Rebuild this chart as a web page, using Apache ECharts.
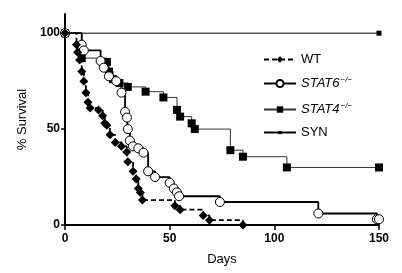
<!DOCTYPE html>
<html>
<head>
<meta charset="utf-8">
<script src="https://cdn.jsdelivr.net/npm/echarts@6/dist/echarts.min.js"></script>
<style>
  html, body { margin: 0; padding: 0; background: #fff; }
  #chart { width: 402px; height: 273px; }
</style>
</head>
<body>
<div id="chart"></div>
<script>
// survival curves, [day, % surviving]
const wtData = [[0,100],[5.5,94],[6,90],[7,86],[8,80],[9,75],[10,69],[11,64],[12,61],[16,60],[18,57],[19,53],[20,52],[21.5,47],[24,43],[27,41],[29.5,38],[30,33],[32.5,28],[34,24],[35,19],[36,17],[37,13],[52.5,10],[55,8],[66,5],[69,2.5],[85,0]];
const stat6Data = [[0,100],[8,94],[9,91],[17,85.5],[18.5,82],[21,77.5],[24.5,75],[27,69],[28.7,59],[29.6,56],[30,50],[31,44],[32.5,41],[35,40],[37.5,37.7],[39.7,28],[43,25],[50,22],[52,19],[53.5,17],[54.5,15],[74,12],[121,6],[149,3],[150,3]];
const stat4Data = [[0,100],[8,87],[20,85],[21,80],[23,76],[26,74],[30,72],[38.5,69.5],[47,66.5],[53.5,60],[55,56.5],[60.5,53],[62,50],[79,39],[85,35.6],[106,30],[150,30]];
const synData = [[0,100],[150,100]];

const xTicks = [0, 50, 100, 150];
const yTicks = [0, 50, 100];

const chart = echarts.init(document.getElementById('chart'));
const font = 'Liberation Sans, Arial, sans-serif';

const legendNames = {
  'WT': 'WT',
  'STAT6': '{i|STAT6}{s|−/−}',
  'STAT4': '{i|STAT4}{s|−/−}',
  'SYN': 'SYN'
};

// one legend per entry so every icon can have its own size
function makeLegend(name, top, h) {
  return {
    orient: 'vertical',
    left: 258,
    top: top,
    itemWidth: 32,
    itemHeight: h,
    formatter: n => legendNames[n],
    textStyle: {
      fontFamily: font,
      fontSize: 13,
      color: '#000',
      rich: {
        i: { fontStyle: 'italic', fontSize: 13, fontFamily: font, color: '#000' },
        s: { fontStyle: 'italic', fontSize: 8, fontFamily: font, color: '#000', padding: [0, 0, 7, 1] }
      }
    },
    data: [name]
  };
}

chart.setOption({
  backgroundColor: '#fff',
  animation: false,
  textStyle: { fontFamily: font },
  grid: { left: 65, right: 23, top: 14, bottom: 48 },
  legend: [
    makeLegend('WT', 48, 8),
    makeLegend('STAT6', 71, 9),
    makeLegend('STAT4', 97, 8),
    makeLegend('SYN', 121, 4)
  ],
  xAxis: {
    type: 'value',
    min: 0,
    max: 150,
    interval: 50,
    name: 'Days',
    nameLocation: 'middle',
    nameGap: 28,
    nameTextStyle: { fontSize: 13, color: '#000', fontFamily: font },
    splitLine: { show: false },
    axisLine: { lineStyle: { color: '#000', width: 2 } },
    axisTick: { customValues: xTicks, length: 5, lineStyle: { color: '#000', width: 1.5 } },
    axisLabel: { customValues: xTicks, color: '#000', fontSize: 12, fontWeight: 'bold', margin: 8 }
  },
  yAxis: {
    type: 'value',
    min: 0,
    max: 110,
    name: '% Survival',
    nameLocation: 'middle',
    nameGap: 32,
    nameRotate: 90,
    nameTextStyle: { fontSize: 13, color: '#000', fontFamily: font },
    splitLine: { show: false },
    axisLine: { show: true, lineStyle: { color: '#000', width: 2 } },
    axisTick: { show: true, customValues: yTicks, length: 4, lineStyle: { color: '#000', width: 1.5 } },
    axisLabel: { customValues: yTicks, color: '#000', fontSize: 12, fontWeight: 'bold', margin: 5 }
  },
  series: [
    {
      name: 'SYN',
      type: 'line',
      step: 'end',
      data: synData,
      symbol: 'rect',
      symbolSize: 5,
      lineStyle: { color: '#000', width: 1 },
      itemStyle: { color: '#000' },
      z: 1
    },
    {
      name: 'STAT4',
      type: 'line',
      step: 'end',
      data: stat4Data,
      symbol: 'rect',
      symbolSize: 8,
      lineStyle: { color: '#333', width: 1 },
      itemStyle: { color: '#000' },
      z: 2
    },
    {
      name: 'STAT6',
      type: 'line',
      step: 'end',
      data: stat6Data,
      symbol: 'circle',
      symbolSize: 9,
      showAllSymbol: true,
      lineStyle: { color: '#000', width: 1.8 },
      itemStyle: { color: '#fff', borderColor: '#000', borderWidth: 1 },
      z: 3
    },
    {
      name: 'WT',
      type: 'line',
      step: 'end',
      data: wtData,
      symbol: 'diamond',
      symbolSize: 9,
      showAllSymbol: true,
      lineStyle: { color: '#000', width: 1.8, type: [5, 3] },
      itemStyle: { color: '#000' },
      z: 4
    }
  ]
});
</script>
</body>
</html>
